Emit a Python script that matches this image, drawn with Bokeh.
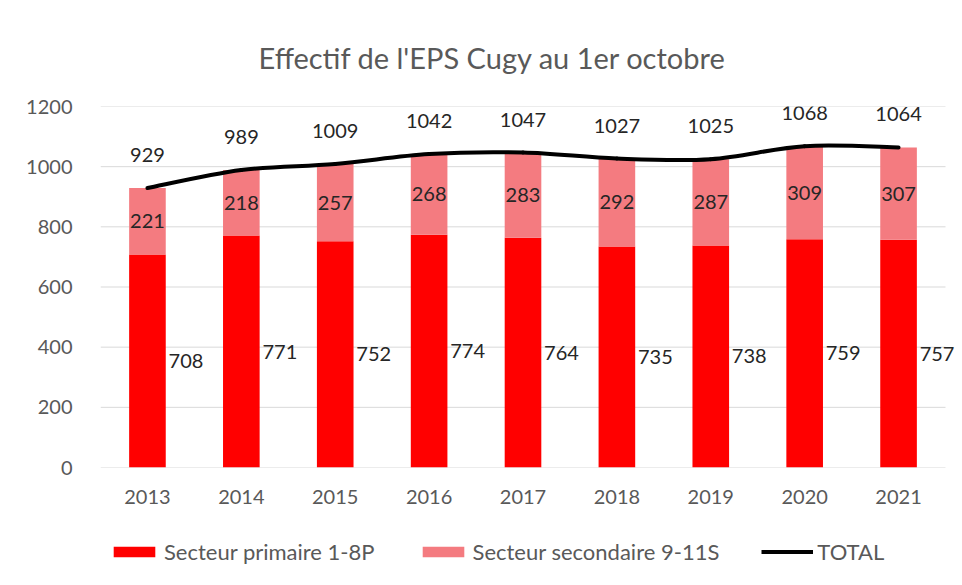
from bokeh.plotting import figure
from bokeh.layouts import column
from bokeh.models import (ColumnDataSource, Range1d, Legend, LegendItem,
                          Title, FixedTicker)
from bokeh.embed import file_html
from bokeh.resources import INLINE
from bokeh.core.properties import value
from bokeh.transform import dodge

years = ["2013", "2014", "2015", "2016", "2017", "2018", "2019", "2020", "2021"]
primaire = [708, 771, 752, 774, 764, 735, 738, 759, 757]
secondaire = [221, 218, 257, 268, 283, 292, 287, 309, 307]
total = [929, 989, 1009, 1042, 1047, 1027, 1025, 1068, 1064]
y_ticks = [0, 200, 400, 600, 800, 1000, 1200]

title_text = "Effectif de l'EPS Cugy au 1er octobre"
label_prim = "Secteur primaire 1-8P"
label_sec = "Secteur secondaire 9-11S"
label_tot = "TOTAL"

RED = "#FF0000"
PINK = "#F47B80"
FONT = "Lato"
GRAY_TXT = "#595959"
DARK_TXT = "#262626"
GRID = "#D9D9D9"

n = len(years)
xpos = [i + 0.5 for i in range(n)]   # category centres on a numeric axis

src = ColumnDataSource(dict(
    xpos=xpos,
    prim=primaire,
    sec=secondaire,
    tot=total,
    prim_mid=[p / 2 for p in primaire],
    sec_mid=[p + s / 2 for p, s in zip(primaire, secondaire)],
    prim_txt=[str(v) for v in primaire],
    sec_txt=[str(v) for v in secondaire],
    tot_txt=[str(v) for v in total],
))

# smoothed total line (Excel-like): cubic Bezier segments between category centres
seg = dict(x0=[], y0=[], x1=[], y1=[], cx0=[], cy0=[], cx1=[], cy1=[])
for i in range(n - 1):
    a, b = max(i - 1, 0), min(i + 2, n - 1)
    seg["x0"].append(xpos[i]); seg["y0"].append(total[i])
    seg["x1"].append(xpos[i + 1]); seg["y1"].append(total[i + 1])
    seg["cx0"].append(xpos[i] + (xpos[i + 1] - xpos[a]) / 6)
    seg["cy0"].append(total[i] + (total[i + 1] - total[a]) / 6)
    seg["cx1"].append(xpos[i + 1] - (xpos[b] - xpos[i]) / 6)
    seg["cy1"].append(total[i + 1] - (total[b] - total[i]) / 6)
seg_src = ColumnDataSource(seg)

# frame spans the 9 categories plus a little room on the right for the last label
p = figure(width=962, height=525, x_range=Range1d(0, n * 862 / 845), y_range=Range1d(0, 1200),
           output_backend="svg", toolbar_location=None,
           min_border_left=100, min_border_right=0, min_border_top=106, min_border_bottom=58)
p.outline_line_color = None
p.background_fill_color = "white"
p.border_fill_color = "white"

# horizontal gridlines limited to the category area
p.segment(x0=0, x1=n, y0=y_ticks, y1=y_ticks, line_color=GRID, line_width=1)

p.vbar(x="xpos", top="prim", bottom=0, width=0.39, source=src,
       fill_color=RED, line_color=None)
p.vbar(x="xpos", top="tot", bottom="prim", width=0.39, source=src,
       fill_color=PINK, line_color=None)
p.bezier(x0="x0", y0="y0", x1="x1", y1="y1", cx0="cx0", cy0="cy0", cx1="cx1", cy1="cy1",
         source=seg_src, line_color="black", line_width=4, line_cap="round")

p.text(x=dodge("xpos", 0.41), y="prim_mid", text="prim_txt", source=src,
       text_font=value(FONT), text_font_size="20px", text_color=DARK_TXT,
       text_align="center", text_baseline="middle")
p.text(x="xpos", y="sec_mid", text="sec_txt", source=src,
       text_font=value(FONT), text_font_size="20px", text_color=DARK_TXT,
       text_align="center", text_baseline="middle")
p.text(x="xpos", y="tot", text="tot_txt", source=src, y_offset=-33,
       text_font=value(FONT), text_font_size="20px", text_color=DARK_TXT,
       text_align="center", text_baseline="middle")

# axes
p.yaxis.ticker = FixedTicker(ticks=y_ticks)
p.xaxis.ticker = FixedTicker(ticks=xpos)
p.xaxis.major_label_overrides = {x: y for x, y in zip(xpos, years)}
for ax in (p.xaxis[0], p.yaxis[0]):
    ax.axis_line_color = None
    ax.major_tick_line_color = None
    ax.minor_tick_line_color = None
    ax.major_label_text_font = FONT
    ax.major_label_text_font_size = "20px"
    ax.major_label_text_color = GRAY_TXT
p.yaxis.major_label_standoff = 22
p.xaxis.major_label_standoff = 16
p.xgrid.grid_line_color = None
p.ygrid.grid_line_color = None

# title
p.add_layout(Title(text=title_text, align="left", offset=158, standoff=64,
                   text_font=FONT, text_font_size="29px", text_font_style="normal",
                   text_color=GRAY_TXT), "above")

# legend in its own strip below the chart (frame aligned with the chart's frame)
pl = figure(width=962, height=55, x_range=Range1d(0, 1), y_range=Range1d(0, 1),
            output_backend="svg", toolbar_location=None,
            x_axis_location=None, y_axis_location=None,
            min_border_left=100, min_border_right=0, min_border_top=0, min_border_bottom=0)
pl.outline_line_color = None
pl.grid.visible = False
pl.background_fill_color = "white"
pl.border_fill_color = "white"
# off-range placeholder glyphs, only used as legend swatches
lg_prim = pl.vbar(x=[-5], top=[-5], bottom=[-6], width=0.1, fill_color=RED, line_color=None)
lg_sec = pl.vbar(x=[-5], top=[-5], bottom=[-6], width=0.1, fill_color=PINK, line_color=None)
lg_tot = pl.line(x=[-5, -4], y=[-5, -5], line_color="black", line_width=4)

legend = Legend(items=[LegendItem(label=label_prim, renderers=[lg_prim]),
                       LegendItem(label=label_sec, renderers=[lg_sec]),
                       LegendItem(label=label_tot, renderers=[lg_tot])],
                location=(8, 15), orientation="horizontal",
                glyph_width=52, glyph_height=13, label_standoff=4, spacing=42,
                padding=0, margin=0, border_line_color=None, background_fill_alpha=0,
                label_text_font=FONT, label_text_font_size="22px", label_text_color=GRAY_TXT,
                label_height=20)
pl.add_layout(legend)

layout = column(p, pl, spacing=0)
open("out.html", "w").write(file_html(layout, INLINE))
